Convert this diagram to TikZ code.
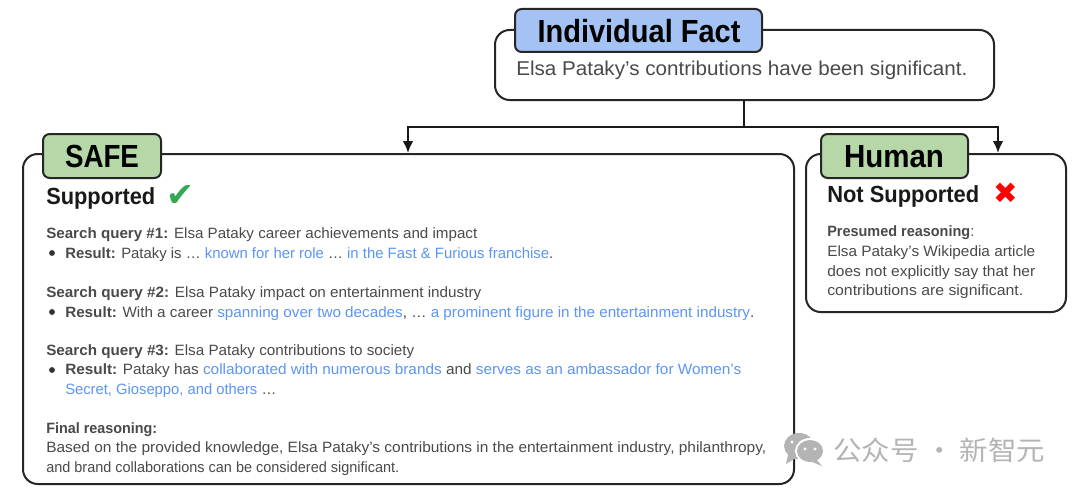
\documentclass[tikz,border=0pt]{standalone}
\usepackage{fontspec}
\usetikzlibrary{arrows.meta}
\setmainfont{Liberation Sans}
\newfontfamily\symfont{DejaVu Sans}
\newfontfamily\cjkfont{Noto Sans CJK SC}
\definecolor{txt}{HTML}{4A4A4A}
\definecolor{hl}{HTML}{5B95F5}
\definecolor{bluefill}{HTML}{A4C2F4}
\definecolor{greenfill}{HTML}{B6D7A8}
\definecolor{wm}{HTML}{B4B4B4}
\newcommand{\hlt}[1]{\textcolor{hl}{#1}}
\newcommand{\fl}[2]{\resizebox{\dimexpr #1pt*3/4\relax}{\height}{#2}}
\tikzset{
  panel/.style={draw=black!85,line width=1.5pt,rounded corners=11pt,fill=white,inner sep=0pt,anchor=north west},
  tagbox/.style={draw=black!85,line width=1.5pt,rounded corners=5pt,inner sep=0pt,anchor=north west},
  tagtext/.style={anchor=base,inner sep=0pt,text=black,font=\fontsize{24}{24}\selectfont\bfseries},
  line/.style={anchor=base west,inner sep=0pt,text=txt,font=\fontsize{11.2}{12}\selectfont},
  head/.style={anchor=base west,inner sep=0pt,text=black!90,font=\fontsize{17.5}{18}\selectfont\bfseries},
  link/.style={line width=1.5pt,draw=black!90},
  bulletdot/.style={circle,fill=black!80,inner sep=0pt,minimum size=4.4pt}
}
\begin{document}
\begin{tikzpicture}[x=0.75pt,y=-0.75pt]
\useasboundingbox (0,0) rectangle (1080,492);
\fill[white] (0,0) rectangle (1080,492);
% panels
\node[panel,minimum width=499*0.75pt,minimum height=70*0.75pt] (fact) at (494,29) {};
\node[panel,minimum width=771*0.75pt,minimum height=330*0.75pt] (safe) at (22,153) {};
\node[panel,minimum width=260*0.75pt,minimum height=158*0.75pt] (human) at (805,153) {};
% connectors
\coordinate (junc) at (744,127);
\coordinate (safetop) at (408,127);
\coordinate (humantop) at (998,127);
\draw[link] (fact.south -| junc) -- (junc);
\draw[link,-{Latex[length=9pt,width=8pt]}] (junc) -- (safetop) -- (safe.north -| safetop);
\draw[link,-{Latex[length=9pt,width=8pt]}] (junc) -- (humantop) -- (human.north -| humantop);
% tags
\node[tagbox,fill=bluefill,minimum width=247*0.75pt,minimum height=43*0.75pt] (tagfact) at (514,8) {};
\node[tagtext] (tagfacttext) at (639,43) {\fl{203}{Individual Fact}};
\node[tagbox,fill=greenfill,minimum width=118*0.75pt,minimum height=44*0.75pt] (tagsafe) at (42,133) {};
\node[tagtext] (tagsafetext) at (102,167) {\fl{74}{SAFE}};
\node[tagbox,fill=greenfill,minimum width=147*0.75pt,minimum height=44*0.75pt] (taghuman) at (820,133) {};
\node[tagtext] (taghumantext) at (894,167) {\fl{100}{Human}};
% fact text
\node[line,font=\fontsize{15}{16}\selectfont] (factline) at (516,75) {\fl{451}{Elsa Pataky’s contributions have been significant.}};
% verdicts
\node[head] (supp) at (46,204) {\fl{109}{Supported}};
\node[anchor=base west,inner sep=0pt,font=\symfont\fontsize{25}{25}\selectfont] (check) at (166,206) {\textcolor[HTML]{34A853}{✔}};
\node[head] (nsupp) at (827,202) {\fl{152}{Not Supported}};
\node[anchor=base west,inner sep=0pt,font=\symfont\fontsize{22}{22}\selectfont] (cross) at (993,203) {\textcolor{red}{✖}};
% SAFE body
\node[line] (q1) at (46,238) {\fl{431}{\textbf{Search query \#1:} Elsa Pataky career achievements and impact}};
\node[bulletdot] (b1) at (52,253) {};
\node[line] (r1) at (65,258) {\fl{488}{\textbf{Result:} Pataky is … \hlt{known for her role} … \hlt{in the Fast \& Furious franchise}.}};
\node[line] (q2) at (46,297) {\fl{435}{\textbf{Search query \#2:} Elsa Pataky impact on entertainment industry}};
\node[bulletdot] (b2) at (52,312) {};
\node[line] (r2) at (65,317) {\fl{689}{\textbf{Result:} With a career \hlt{spanning over two decades}, … \hlt{a prominent figure in the entertainment industry}.}};
\node[line] (q3) at (46,355) {\fl{368}{\textbf{Search query \#3:} Elsa Pataky contributions to society}};
\node[bulletdot] (b3) at (52,370) {};
\node[line] (r3) at (65,374) {\fl{676}{\textbf{Result:} Pataky has \hlt{collaborated with numerous brands} and \hlt{serves as an ambassador for Women's}}};
\node[line] (r3b) at (65,394) {\fl{211}{\hlt{Secret, Gioseppo, and others} …}};
\node[line] (fr) at (46,433) {\fl{111}{\textbf{Final reasoning:}}};
\node[line] (f1) at (46,452) {\fl{720}{Based on the provided knowledge, Elsa Pataky's contributions in the entertainment industry, philanthropy,}};
\node[line] (f2) at (46,472) {\fl{353}{and brand collaborations can be considered significant.}};
% Human body
\node[line] (p0) at (827,236) {\fl{147}{\textbf{Presumed reasoning}:}};
\node[line] (p1) at (827,256) {\fl{208}{Elsa Pataky's Wikipedia article}};
\node[line] (p2) at (827,276) {\fl{208}{does not explicitly say that her}};
\node[line] (p3) at (827,295) {\fl{196}{contributions are significant.}};
% watermark
\fill[wm] (799,446) ellipse (15 and 13);
\fill[wm] (788,455) -- (786,464) -- (796,458) -- cycle;
\fill[white] (810,451) ellipse (15 and 13);
\fill[wm] (810,451) ellipse (13 and 11);
\fill[wm] (816,459) -- (822,466) -- (810,461) -- cycle;
\fill[white] (805,449) circle (1.7) (815,449) circle (1.7);
\fill[white] (792,442) circle (1.7);
\node[anchor=base west,inner sep=0pt,text=wm,font=\cjkfont\fontsize{20}{20}\selectfont] (wmark) at (833,460) {\fl{212}{公众号 · 新智元}};
\end{tikzpicture}
\end{document}
